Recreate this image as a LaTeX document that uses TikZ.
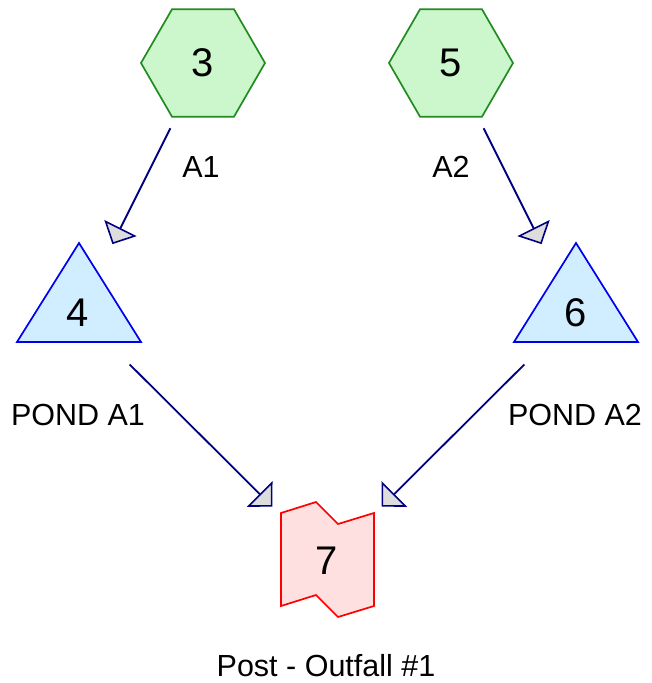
\documentclass[tikz,border=0pt]{standalone}
\usepackage{fontspec}
\setmainfont{Liberation Sans}
\usetikzlibrary{shapes.geometric,arrows.meta}
\definecolor{hexfill}{RGB}{204,247,204}
\definecolor{hexline}{RGB}{34,139,34}
\definecolor{trifill}{RGB}{208,238,255}
\definecolor{triline}{RGB}{0,0,235}
\definecolor{outfill}{RGB}{255,224,224}
\definecolor{outline}{RGB}{255,0,0}
\definecolor{conncol}{RGB}{0,0,128}
\definecolor{tipfill}{RGB}{221,221,221}
\begin{document}
\begin{tikzpicture}[x=1pt,y=-1pt,
  hexnode/.style={regular polygon, regular polygon sides=6, minimum size=124pt,
    inner sep=0pt, outer sep=0pt, draw=hexline, fill=hexfill, line width=1.7pt,
    font=\fontsize{40}{42}\selectfont},
  numnode/.style={inner sep=0pt, font=\fontsize{40}{42}\selectfont},
  lbl/.style={anchor=base, inner sep=0pt, font=\fontsize{30.5}{32}\selectfont},
  tri/.style={draw=triline, fill=trifill, line width=1.7pt, line join=miter},
  outshape/.style={draw=outline, fill=outfill, line width=1.7pt, line join=miter},
  conn/.style={draw=conncol, line width=1.8pt, shorten <=73pt, shorten >=77pt,
    -{Triangle[length=18pt,width=36pt,fill=tipfill,line width=1.6pt]}}
]
\useasboundingbox (0,0) rectangle (652,683);
% triangles
\draw[tri] (79,243) -- (141,342) -- (17,342) -- cycle;
\draw[tri] (576,243) -- (638,342) -- (514,342) -- cycle;
% outfall shape
\draw[outshape] (281,513) -- (316,502) -- (338,524) -- (374,513) -- (374,606)
  -- (338,617) -- (316,595) -- (281,606) -- cycle;
% nodes
\node[hexnode] (n3) at (203,63) {3};
\node[hexnode] (n5) at (451,63) {5};
\node[numnode] (n4) at (78,313) {4};
\node[numnode] (n6) at (576,313) {6};
\node[numnode] (n7) at (327,561) {7};
% labels
\node[lbl] (l3) at (201,177) {A1};
\node[lbl] (l5) at (451,177) {A2};
\node[lbl] (l4) at (78,425) {POND A1};
\node[lbl] (l6) at (575,425) {POND A2};
\node[lbl] (l7) at (326,676) {Post - Outfall \#1};
% connectors
\draw[conn] (n3.center) -- (n4.center);
\draw[conn] (n5.center) -- (n6.center);
\draw[conn] (n4.center) -- (n7.center);
\draw[conn] (n6.center) -- (n7.center);
\end{tikzpicture}
\end{document}
